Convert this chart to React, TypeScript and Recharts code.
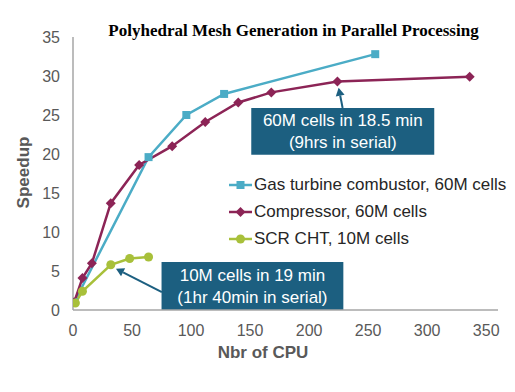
import * as React from "react";
import {
  LineChart,
  Line,
  XAxis,
  YAxis,
  Legend,
  ReferenceArea,
  ReferenceLine,
} from "recharts";

// values
const gasCpu = [1, 64, 96, 128, 256];
const gasSpeedup = [1, 19.6, 25, 27.7, 32.8];

const compCpu = [1, 8, 16, 32, 56, 84, 112, 140, 168, 224, 336];
const compSpeedup = [1, 4.1, 6, 13.7, 18.6, 21, 24.1, 26.6, 27.9, 29.3, 29.9];

const scrCpu = [2, 8, 32, 48, 64];
const scrSpeedup = [0.9, 2.4, 5.8, 6.6, 6.8];

const xTicks = [0, 50, 100, 150, 200, 250, 300, 350];
const yTicks = [0, 5, 10, 15, 20, 25, 30, 35];

const toRows = (cpu: number[], speedup: number[]) =>
  cpu.map((c, i) => ({ cpu: c, speedup: speedup[i] }));

const gasData = toRows(gasCpu, gasSpeedup);
const compData = toRows(compCpu, compSpeedup);
const scrData = toRows(scrCpu, scrSpeedup);

const CYAN = "#4BACC6";
const MAROON = "#8C2456";
const GREEN = "#A8C03A";
const BOX = "#1C5F80";
const AXIS = "#A6A6A6";
const TICK = "#595959";
const SANS = "'Liberation Sans', Arial, sans-serif";

const series = [
  { name: "Gas turbine combustor, 60M cells", color: CYAN, shape: "square" },
  { name: "Compressor, 60M cells", color: MAROON, shape: "diamond" },
  { name: "SCR CHT, 10M cells", color: GREEN, shape: "circle" },
];

const Marker = ({ cx, cy, color, shape }: any) => {
  if (cx == null || cy == null) return null;
  if (shape === "square")
    return <rect x={cx - 4} y={cy - 4} width={8} height={8} fill={color} />;
  if (shape === "diamond")
    return (
      <polygon
        points={`${cx},${cy - 5} ${cx + 5},${cy} ${cx},${cy + 5} ${cx - 5},${cy}`}
        fill={color}
      />
    );
  return <circle cx={cx} cy={cy} r={4.5} fill={color} />;
};

const makeDot = (color: string, shape: string) => (props: any) => (
  <Marker key={`${shape}-${props.index}`} cx={props.cx} cy={props.cy} color={color} shape={shape} />
);

const BoxLabel = ({ viewBox, lines }: any) => {
  if (!viewBox) return null;
  const { x, y, width, height } = viewBox;
  const cx = x + width / 2;
  const mid = y + height / 2;
  return (
    <text
      x={cx}
      y={mid}
      textAnchor="middle"
      fill="#ffffff"
      fontFamily={SANS}
      fontSize={17}
    >
      <tspan x={cx} y={mid - 5}>
        {lines[0]}
      </tspan>
      <tspan x={cx} y={mid + 17}>
        {lines[1]}
      </tspan>
    </text>
  );
};

const Arrow = (props: any) => {
  const { x1, y1, x2, y2 } = props;
  if ([x1, y1, x2, y2].some((v) => v == null)) return null;
  const ang = Math.atan2(y2 - y1, x2 - x1);
  const len = 8;
  const w = 4.5;
  const bx = x2 - len * Math.cos(ang);
  const by = y2 - len * Math.sin(ang);
  const px = -Math.sin(ang) * w;
  const py = Math.cos(ang) * w;
  return (
    <g>
      <line x1={x1} y1={y1} x2={bx} y2={by} stroke={BOX} strokeWidth={2} />
      <polygon
        points={`${x2},${y2} ${bx + px},${by + py} ${bx - px},${by - py}`}
        fill={BOX}
      />
    </g>
  );
};

const LegendContent = () => (
  <div style={{ fontFamily: SANS, fontSize: 17, color: "#262626" }}>
    {series.map((s) => (
      <div
        key={s.name}
        style={{ display: "flex", alignItems: "center", height: 27, whiteSpace: "nowrap" }}
      >
        <svg width={24} height={12} style={{ marginRight: 1 }}>
          <line x1={0} y1={6} x2={23} y2={6} stroke={s.color} strokeWidth={2.5} />
          <Marker cx={11.5} cy={6} color={s.color} shape={s.shape} />
        </svg>
        <span>{s.name}</span>
      </div>
    ))}
  </div>
);

const YTitle = ({ viewBox }: any) => {
  const x = viewBox.x + 10;
  const y = viewBox.y + viewBox.height / 2 - 1;
  return (
    <text
      x={x}
      y={y}
      transform={`rotate(-90, ${x}, ${y})`}
      textAnchor="middle"
      dominantBaseline="central"
      fontFamily={SANS}
      fontWeight="bold"
      fontSize={17}
      fill={TICK}
    >
      Speedup
    </text>
  );
};

const XTitle = ({ viewBox }: any) => (
  <text
    x={263}
    y={viewBox.y + 48}
    textAnchor="middle"
    fontFamily={SANS}
    fontWeight="bold"
    fontSize={17}
    fill={TICK}
  >
    Nbr of CPU
  </text>
);

export default function App() {
  return (
    <div
      style={{
        position: "absolute",
        left: 0,
        top: 0,
        width: 515,
        height: 392,
        background: "#ffffff",
      }}
    >
      <div
        style={{
          position: "absolute",
          left: 293.5,
          top: 22,
          transform: "translateX(-50%)",
          whiteSpace: "nowrap",
          fontFamily: "'Liberation Serif', 'Times New Roman', serif",
          fontWeight: "bold",
          fontSize: 17,
          lineHeight: "18px",
          color: "#000000",
          zIndex: 2,
        }}
      >
        Polyhedral Mesh Generation in Parallel Processing
      </div>
      <LineChart
        width={515}
        height={392}
        margin={{ top: 37, right: 17, bottom: 42, left: 13 }}
      >
        <XAxis
          type="number"
          dataKey="cpu"
          domain={[0, 360]}
          ticks={xTicks}
          allowDataOverflow
          tickLine={false}
          tickMargin={9}
          height={40}
          axisLine={{ stroke: AXIS, strokeWidth: 1.5 }}
          tick={{ fill: TICK, fontSize: 16, fontFamily: SANS }}
          label={<XTitle />}
        />
        <YAxis
          type="number"
          domain={[0, 35]}
          ticks={yTicks}
          tickLine={false}
          tickMargin={7}
          width={60}
          axisLine={{ stroke: AXIS, strokeWidth: 1.5 }}
          tick={{ fill: TICK, fontSize: 16, fontFamily: SANS }}
          label={<YTitle />}
        />
        <ReferenceArea
          x1={151}
          x2={306}
          y1={19.9}
          y2={25.9}
          fill={BOX}
          fillOpacity={1}
          stroke="none"
          label={<BoxLabel lines={["60M cells in 18.5 min", "(9hrs in serial)"]} />}
        />
        <ReferenceArea
          x1={75}
          x2={229}
          y1={0}
          y2={6.15}
          fill={BOX}
          fillOpacity={1}
          stroke="none"
          label={<BoxLabel lines={["10M cells in 19 min", "(1hr 40min in serial)"]} />}
        />
        <ReferenceLine
          segment={[
            { x: 228.4, y: 25.9 },
            { x: 225, y: 28.5 },
          ]}
          shape={Arrow}
        />
        <ReferenceLine
          segment={[
            { x: 75.3, y: 2.3 },
            { x: 36.4, y: 5.3 },
          ]}
          shape={Arrow}
        />
        <Line
          data={gasData}
          dataKey="speedup"
          name={series[0].name}
          stroke={CYAN}
          strokeWidth={2.5}
          dot={makeDot(CYAN, "square")}
          activeDot={false}
          isAnimationActive={false}
        />
        <Line
          data={compData}
          dataKey="speedup"
          name={series[1].name}
          stroke={MAROON}
          strokeWidth={2.5}
          dot={makeDot(MAROON, "diamond")}
          activeDot={false}
          isAnimationActive={false}
        />
        <Line
          data={scrData}
          dataKey="speedup"
          name={series[2].name}
          stroke={GREEN}
          strokeWidth={2.5}
          dot={makeDot(GREEN, "circle")}
          activeDot={false}
          isAnimationActive={false}
        />
        <Legend
          layout="vertical"
          align="center"
          verticalAlign="middle"
          content={<LegendContent />}
          wrapperStyle={{ position: "absolute", left: 229, top: 171, width: 290 }}
        />
      </LineChart>
    </div>
  );
}
